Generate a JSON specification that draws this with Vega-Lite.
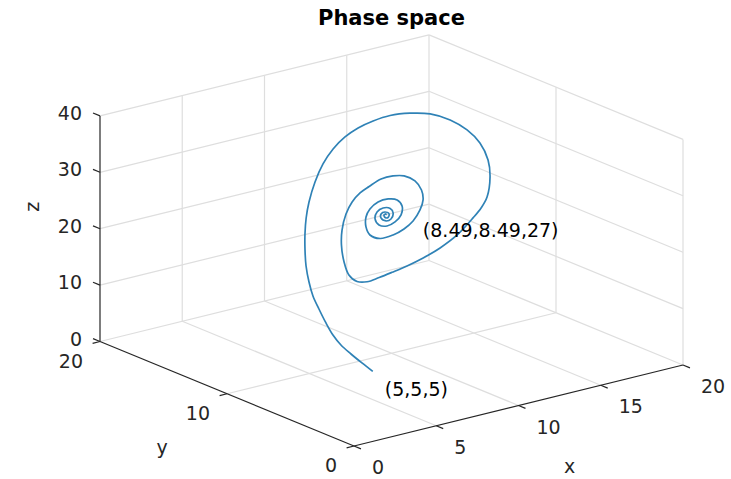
{
  "$schema": "https://vega.github.io/schema/vega-lite/v6.json",
  "description": "Lorenz trajectory from (5,5,5) spiralling into the fixed point (8.49,8.49,27), drawn in an oblique 3-D box view.",
  "width": 731,
  "height": 449,
  "autosize": {"type": "none"},
  "padding": {"left": 0, "right": 0, "top": 30, "bottom": 0},
  "background": "white",
  "config": {"view": {"stroke": null}, "font": "DejaVu Sans"},
  "title": {
    "text": "Phase space",
    "font": "DejaVu Sans",
    "fontSize": 21,
    "fontWeight": "bold",
    "color": "#000000",
    "anchor": "middle",
    "dx": 26,
    "offset": 1
  },
  "datasets": {
    "trajectory": [
      {"i": 1, "x": 5, "y": 5, "z": 5},
      {"i": 2, "x": 5.2, "y": 6.11, "z": 5.33},
      {"i": 3, "x": 5.4, "y": 7.23, "z": 5.74},
      {"i": 4, "x": 5.6, "y": 8.28, "z": 6.22},
      {"i": 5, "x": 5.8, "y": 9.17, "z": 7.02},
      {"i": 6, "x": 6.0, "y": 9.98, "z": 8.26},
      {"i": 7, "x": 6.3, "y": 10.92, "z": 9.65},
      {"i": 8, "x": 6.6, "y": 11.78, "z": 10.95},
      {"i": 9, "x": 7.0, "y": 12.61, "z": 12.37},
      {"i": 10, "x": 7.5, "y": 13.49, "z": 14.03},
      {"i": 11, "x": 8.0, "y": 14.22, "z": 15.83},
      {"i": 12, "x": 8.6, "y": 15.0, "z": 17.52},
      {"i": 13, "x": 9.22, "y": 15.71, "z": 19.25},
      {"i": 14, "x": 10.22, "y": 16.78, "z": 20.38},
      {"i": 15, "x": 11.45, "y": 17.9, "z": 22.01},
      {"i": 16, "x": 12.53, "y": 18.67, "z": 23.72},
      {"i": 17, "x": 13.39, "y": 18.99, "z": 25.46},
      {"i": 18, "x": 14.03, "y": 18.88, "z": 27.23},
      {"i": 19, "x": 14.47, "y": 18.42, "z": 28.94},
      {"i": 20, "x": 14.75, "y": 17.6, "z": 30.74},
      {"i": 21, "x": 14.91, "y": 16.47, "z": 32.64},
      {"i": 22, "x": 14.82, "y": 14.79, "z": 34.66},
      {"i": 23, "x": 14.55, "y": 12.85, "z": 36.53},
      {"i": 24, "x": 13.93, "y": 10.47, "z": 38.11},
      {"i": 25, "x": 13.08, "y": 8.04, "z": 39.2},
      {"i": 26, "x": 12.08, "y": 5.73, "z": 39.75},
      {"i": 27, "x": 10.89, "y": 3.55, "z": 39.62},
      {"i": 28, "x": 9.76, "y": 1.93, "z": 38.91},
      {"i": 29, "x": 8.49, "y": 0.52, "z": 37.57},
      {"i": 30, "x": 7.85, "y": 0.16, "z": 36.42},
      {"i": 31, "x": 7.29, "y": 0.07, "z": 35.14},
      {"i": 32, "x": 6.37, "y": 0.13, "z": 32.72},
      {"i": 33, "x": 5.72, "y": 0.63, "z": 30.42},
      {"i": 34, "x": 5.27, "y": 1.38, "z": 28.27},
      {"i": 35, "x": 4.93, "y": 2.21, "z": 26.33},
      {"i": 36, "x": 4.69, "y": 3.08, "z": 24.57},
      {"i": 37, "x": 4.51, "y": 3.86, "z": 23.06},
      {"i": 38, "x": 4.37, "y": 4.63, "z": 21.69},
      {"i": 39, "x": 4.5, "y": 5.59, "z": 20.76},
      {"i": 40, "x": 5.01, "y": 6.89, "z": 20.34},
      {"i": 41, "x": 5.92, "y": 8.45, "z": 20.55},
      {"i": 42, "x": 7.05, "y": 10.12, "z": 21.21},
      {"i": 43, "x": 8.02, "y": 11.33, "z": 22.04},
      {"i": 44, "x": 9.01, "y": 12.3, "z": 23.27},
      {"i": 45, "x": 9.73, "y": 12.75, "z": 24.47},
      {"i": 46, "x": 10.22, "y": 12.76, "z": 25.71},
      {"i": 47, "x": 10.54, "y": 12.46, "z": 26.9},
      {"i": 48, "x": 10.89, "y": 11.97, "z": 28.44},
      {"i": 49, "x": 10.94, "y": 11.1, "z": 29.74},
      {"i": 50, "x": 10.82, "y": 10.07, "z": 30.79},
      {"i": 51, "x": 10.36, "y": 8.62, "z": 31.57},
      {"i": 52, "x": 9.7, "y": 7.25, "z": 31.71},
      {"i": 53, "x": 9.04, "y": 6.27, "z": 31.33},
      {"i": 54, "x": 8.42, "y": 5.71, "z": 30.52},
      {"i": 55, "x": 7.79, "y": 5.44, "z": 29.27},
      {"i": 56, "x": 7.37, "y": 5.61, "z": 27.99},
      {"i": 57, "x": 7.11, "y": 6.13, "z": 26.63},
      {"i": 58, "x": 7.03, "y": 7.05, "z": 25.21},
      {"i": 59, "x": 7.37, "y": 8.29, "z": 24.44},
      {"i": 60, "x": 7.94, "y": 9.34, "z": 24.49},
      {"i": 61, "x": 8.59, "y": 10.18, "z": 25.01},
      {"i": 62, "x": 9.06, "y": 10.48, "z": 25.81},
      {"i": 63, "x": 9.43, "y": 10.32, "z": 26.94},
      {"i": 64, "x": 9.51, "y": 9.63, "z": 28.05},
      {"i": 65, "x": 9.34, "y": 8.7, "z": 28.86},
      {"i": 66, "x": 8.89, "y": 7.73, "z": 29.02},
      {"i": 67, "x": 8.32, "y": 7.07, "z": 28.45},
      {"i": 68, "x": 7.93, "y": 7.04, "z": 27.51},
      {"i": 69, "x": 7.76, "y": 7.45, "z": 26.53},
      {"i": 70, "x": 7.92, "y": 8.29, "z": 25.83},
      {"i": 71, "x": 8.36, "y": 9.17, "z": 25.76},
      {"i": 72, "x": 8.79, "y": 9.57, "z": 26.32},
      {"i": 73, "x": 8.98, "y": 9.34, "z": 27.1},
      {"i": 74, "x": 8.87, "y": 8.64, "z": 27.74},
      {"i": 75, "x": 8.54, "y": 7.98, "z": 27.79},
      {"i": 76, "x": 8.17, "y": 7.67, "z": 27.28},
      {"i": 77, "x": 8.1, "y": 7.97, "z": 26.7},
      {"i": 78, "x": 8.35, "y": 8.69, "z": 26.39},
      {"i": 79, "x": 8.61, "y": 9.02, "z": 26.6},
      {"i": 80, "x": 8.69, "y": 8.82, "z": 27.08},
      {"i": 81, "x": 8.52, "y": 8.27, "z": 27.36},
      {"i": 82, "x": 8.3, "y": 8.07, "z": 27.08},
      {"i": 83, "x": 8.34, "y": 8.35, "z": 26.79},
      {"i": 84, "x": 8.51, "y": 8.66, "z": 26.83},
      {"i": 85, "x": 8.55, "y": 8.56, "z": 27.07},
      {"i": 86, "x": 8.49, "y": 8.49, "z": 27}
    ],
    "grid": [
      {"x1": 0, "y1": 20, "z1": 10, "x2": 20, "y2": 20, "z2": 10},
      {"x1": 0, "y1": 20, "z1": 20, "x2": 20, "y2": 20, "z2": 20},
      {"x1": 0, "y1": 20, "z1": 30, "x2": 20, "y2": 20, "z2": 30},
      {"x1": 0, "y1": 20, "z1": 40, "x2": 20, "y2": 20, "z2": 40},
      {"x1": 5, "y1": 20, "z1": 0, "x2": 5, "y2": 20, "z2": 40},
      {"x1": 10, "y1": 20, "z1": 0, "x2": 10, "y2": 20, "z2": 40},
      {"x1": 15, "y1": 20, "z1": 0, "x2": 15, "y2": 20, "z2": 40},
      {"x1": 20, "y1": 20, "z1": 0, "x2": 20, "y2": 20, "z2": 40},
      {"x1": 20, "y1": 0, "z1": 10, "x2": 20, "y2": 20, "z2": 10},
      {"x1": 20, "y1": 0, "z1": 20, "x2": 20, "y2": 20, "z2": 20},
      {"x1": 20, "y1": 0, "z1": 30, "x2": 20, "y2": 20, "z2": 30},
      {"x1": 20, "y1": 0, "z1": 40, "x2": 20, "y2": 20, "z2": 40},
      {"x1": 20, "y1": 0, "z1": 0, "x2": 20, "y2": 0, "z2": 40},
      {"x1": 20, "y1": 10, "z1": 0, "x2": 20, "y2": 10, "z2": 40},
      {"x1": 5, "y1": 0, "z1": 0, "x2": 5, "y2": 20, "z2": 0},
      {"x1": 10, "y1": 0, "z1": 0, "x2": 10, "y2": 20, "z2": 0},
      {"x1": 15, "y1": 0, "z1": 0, "x2": 15, "y2": 20, "z2": 0},
      {"x1": 20, "y1": 0, "z1": 0, "x2": 20, "y2": 20, "z2": 0},
      {"x1": 0, "y1": 10, "z1": 0, "x2": 20, "y2": 10, "z2": 0},
      {"x1": 0, "y1": 20, "z1": 0, "x2": 20, "y2": 20, "z2": 0}
    ],
    "axisLines": [
      {"x1": 0, "y1": 0, "z1": 0, "x2": 20, "y2": 0, "z2": 0},
      {"x1": 0, "y1": 0, "z1": 0, "x2": 0, "y2": 20, "z2": 0},
      {"x1": 0, "y1": 20, "z1": 0, "x2": 0, "y2": 20, "z2": 40},
      {"x1": 0, "y1": 0, "z1": 0, "x2": 0, "y2": -0.55, "z2": 0},
      {"x1": 5, "y1": 0, "z1": 0, "x2": 5, "y2": -0.55, "z2": 0},
      {"x1": 10, "y1": 0, "z1": 0, "x2": 10, "y2": -0.55, "z2": 0},
      {"x1": 15, "y1": 0, "z1": 0, "x2": 15, "y2": -0.55, "z2": 0},
      {"x1": 20, "y1": 0, "z1": 0, "x2": 20, "y2": -0.55, "z2": 0},
      {"x1": 0, "y1": 0, "z1": 0, "x2": -0.45, "y2": 0, "z2": 0},
      {"x1": 0, "y1": 10, "z1": 0, "x2": -0.45, "y2": 10, "z2": 0},
      {"x1": 0, "y1": 20, "z1": 0, "x2": -0.45, "y2": 20, "z2": 0},
      {"x1": 0, "y1": 20, "z1": 0, "x2": 0, "y2": 20.55, "z2": 0},
      {"x1": 0, "y1": 20, "z1": 10, "x2": 0, "y2": 20.55, "z2": 10},
      {"x1": 0, "y1": 20, "z1": 20, "x2": 0, "y2": 20.55, "z2": 20},
      {"x1": 0, "y1": 20, "z1": 30, "x2": 0, "y2": 20.55, "z2": 30},
      {"x1": 0, "y1": 20, "z1": 40, "x2": 0, "y2": 20.55, "z2": 40}
    ],
    "xTicks": [
      {"x": 0, "y": 0, "z": 0, "label": "0"},
      {"x": 5, "y": 0, "z": 0, "label": "5"},
      {"x": 10, "y": 0, "z": 0, "label": "10"},
      {"x": 15, "y": 0, "z": 0, "label": "15"},
      {"x": 20, "y": 0, "z": 0, "label": "20"}
    ],
    "yTicks": [
      {"x": 0, "y": 0, "z": 0, "label": "0"},
      {"x": 0, "y": 10, "z": 0, "label": "10"},
      {"x": 0, "y": 20, "z": 0, "label": "20"}
    ],
    "zTicks": [
      {"x": 0, "y": 20, "z": 0, "label": "0"},
      {"x": 0, "y": 20, "z": 10, "label": "10"},
      {"x": 0, "y": 20, "z": 20, "label": "20"},
      {"x": 0, "y": 20, "z": 30, "label": "30"},
      {"x": 0, "y": 20, "z": 40, "label": "40"}
    ]
  },
  "layer": [
    {
      "data": {"name": "grid"},
      "transform": [
        {"calculate": "16.45 * datum.x1 - 12.7 * datum.y1", "as": "u1"},
        {"calculate": "4.05 * datum.x1 + 5.225 * datum.y1 + 5.64 * datum.z1", "as": "v1"},
        {"calculate": "16.45 * datum.x2 - 12.7 * datum.y2", "as": "u2"},
        {"calculate": "4.05 * datum.x2 + 5.225 * datum.y2 + 5.64 * datum.z2", "as": "v2"}
      ],
      "mark": {"type": "rule", "color": "#dedede", "strokeWidth": 1.2},
      "encoding": {
        "x": {"field": "u1", "type": "quantitative", "scale": {"domain": [-354, 377], "nice": false, "zero": false}, "axis": null},
        "y": {"field": "v1", "type": "quantitative", "scale": {"domain": [-33, 416], "nice": false, "zero": false}, "axis": null},
        "x2": {"field": "u2"},
        "y2": {"field": "v2"}
      }
    },
    {
      "data": {"name": "axisLines"},
      "transform": [
        {"calculate": "16.45 * datum.x1 - 12.7 * datum.y1", "as": "u1"},
        {"calculate": "4.05 * datum.x1 + 5.225 * datum.y1 + 5.64 * datum.z1", "as": "v1"},
        {"calculate": "16.45 * datum.x2 - 12.7 * datum.y2", "as": "u2"},
        {"calculate": "4.05 * datum.x2 + 5.225 * datum.y2 + 5.64 * datum.z2", "as": "v2"}
      ],
      "mark": {"type": "rule", "color": "#262626", "strokeWidth": 1.2},
      "encoding": {
        "x": {"field": "u1", "type": "quantitative", "scale": {"domain": [-354, 377], "nice": false, "zero": false}, "axis": null},
        "y": {"field": "v1", "type": "quantitative", "scale": {"domain": [-33, 416], "nice": false, "zero": false}, "axis": null},
        "x2": {"field": "u2"},
        "y2": {"field": "v2"}
      }
    },
    {
      "data": {"name": "trajectory"},
      "transform": [
        {"calculate": "16.45 * datum.x - 12.7 * datum.y", "as": "u"},
        {"calculate": "4.05 * datum.x + 5.225 * datum.y + 5.64 * datum.z", "as": "v"}
      ],
      "mark": {"type": "line", "color": "#2f82b6", "strokeWidth": 1.7, "interpolate": "catmull-rom"},
      "encoding": {
        "x": {"field": "u", "type": "quantitative", "scale": {"domain": [-354, 377], "nice": false, "zero": false}, "axis": null},
        "y": {"field": "v", "type": "quantitative", "scale": {"domain": [-33, 416], "nice": false, "zero": false}, "axis": null},
        "order": {"field": "i", "type": "quantitative"}
      }
    },
    {
      "data": {"name": "xTicks"},
      "transform": [
        {"calculate": "16.45 * datum.x - 12.7 * datum.y", "as": "u"},
        {"calculate": "4.05 * datum.x + 5.225 * datum.y + 5.64 * datum.z", "as": "v"}
      ],
      "mark": {"type": "text", "align": "left", "baseline": "middle", "dx": 18, "dy": 22, "fontSize": 19, "font": "DejaVu Sans", "color": "#262626"},
      "encoding": {
        "x": {"field": "u", "type": "quantitative", "scale": {"domain": [-354, 377], "nice": false, "zero": false}, "axis": null},
        "y": {"field": "v", "type": "quantitative", "scale": {"domain": [-33, 416], "nice": false, "zero": false}, "axis": null},
        "text": {"field": "label"}
      }
    },
    {
      "data": {"name": "yTicks"},
      "transform": [
        {"calculate": "16.45 * datum.x - 12.7 * datum.y", "as": "u"},
        {"calculate": "4.05 * datum.x + 5.225 * datum.y + 5.64 * datum.z", "as": "v"}
      ],
      "mark": {"type": "text", "align": "right", "baseline": "middle", "dx": -17, "dy": 20, "fontSize": 19, "font": "DejaVu Sans", "color": "#262626"},
      "encoding": {
        "x": {"field": "u", "type": "quantitative", "scale": {"domain": [-354, 377], "nice": false, "zero": false}, "axis": null},
        "y": {"field": "v", "type": "quantitative", "scale": {"domain": [-33, 416], "nice": false, "zero": false}, "axis": null},
        "text": {"field": "label"}
      }
    },
    {
      "data": {"name": "zTicks"},
      "transform": [
        {"calculate": "16.45 * datum.x - 12.7 * datum.y", "as": "u"},
        {"calculate": "4.05 * datum.x + 5.225 * datum.y + 5.64 * datum.z", "as": "v"}
      ],
      "mark": {"type": "text", "align": "right", "baseline": "middle", "dx": -18, "dy": -2, "fontSize": 19, "font": "DejaVu Sans", "color": "#262626"},
      "encoding": {
        "x": {"field": "u", "type": "quantitative", "scale": {"domain": [-354, 377], "nice": false, "zero": false}, "axis": null},
        "y": {"field": "v", "type": "quantitative", "scale": {"domain": [-33, 416], "nice": false, "zero": false}, "axis": null},
        "text": {"field": "label"}
      }
    },
    {
      "data": {"values": [{"x": 10, "y": 0, "z": 0, "label": "x"}]},
      "transform": [
        {"calculate": "16.45 * datum.x - 12.7 * datum.y", "as": "u"},
        {"calculate": "4.05 * datum.x + 5.225 * datum.y + 5.64 * datum.z", "as": "v"}
      ],
      "mark": {"type": "text", "align": "center", "baseline": "middle", "dx": 51, "dy": 61, "fontSize": 19, "font": "DejaVu Sans", "color": "#262626"},
      "encoding": {
        "x": {"field": "u", "type": "quantitative", "scale": {"domain": [-354, 377], "nice": false, "zero": false}, "axis": null},
        "y": {"field": "v", "type": "quantitative", "scale": {"domain": [-33, 416], "nice": false, "zero": false}, "axis": null},
        "text": {"field": "label"}
      }
    },
    {
      "data": {"values": [{"x": 0, "y": 10, "z": 0, "label": "y"}]},
      "transform": [
        {"calculate": "16.45 * datum.x - 12.7 * datum.y", "as": "u"},
        {"calculate": "4.05 * datum.x + 5.225 * datum.y + 5.64 * datum.z", "as": "v"}
      ],
      "mark": {"type": "text", "align": "center", "baseline": "middle", "dx": -65, "dy": 54, "fontSize": 19, "font": "DejaVu Sans", "color": "#262626"},
      "encoding": {
        "x": {"field": "u", "type": "quantitative", "scale": {"domain": [-354, 377], "nice": false, "zero": false}, "axis": null},
        "y": {"field": "v", "type": "quantitative", "scale": {"domain": [-33, 416], "nice": false, "zero": false}, "axis": null},
        "text": {"field": "label"}
      }
    },
    {
      "data": {"values": [{"x": 0, "y": 20, "z": 20, "label": "z"}]},
      "transform": [
        {"calculate": "16.45 * datum.x - 12.7 * datum.y", "as": "u"},
        {"calculate": "4.05 * datum.x + 5.225 * datum.y + 5.64 * datum.z", "as": "v"}
      ],
      "mark": {"type": "text", "align": "center", "baseline": "middle", "angle": 270, "dx": 22, "dy": -67, "fontSize": 19, "font": "DejaVu Sans", "color": "#262626"},
      "encoding": {
        "x": {"field": "u", "type": "quantitative", "scale": {"domain": [-354, 377], "nice": false, "zero": false}, "axis": null},
        "y": {"field": "v", "type": "quantitative", "scale": {"domain": [-33, 416], "nice": false, "zero": false}, "axis": null},
        "text": {"field": "label"}
      }
    },
    {
      "data": {"values": [{"x": 5, "y": 5, "z": 5, "label": "(5,5,5)"}]},
      "transform": [
        {"calculate": "16.45 * datum.x - 12.7 * datum.y", "as": "u"},
        {"calculate": "4.05 * datum.x + 5.225 * datum.y + 5.64 * datum.z", "as": "v"}
      ],
      "mark": {"type": "text", "align": "left", "baseline": "middle", "dx": 12, "dy": 19, "fontSize": 19, "font": "DejaVu Sans", "color": "#000000"},
      "encoding": {
        "x": {"field": "u", "type": "quantitative", "scale": {"domain": [-354, 377], "nice": false, "zero": false}, "axis": null},
        "y": {"field": "v", "type": "quantitative", "scale": {"domain": [-33, 416], "nice": false, "zero": false}, "axis": null},
        "text": {"field": "label"}
      }
    },
    {
      "data": {"values": [{"x": 8.49, "y": 8.49, "z": 27, "label": "(8.49,8.49,27)"}]},
      "transform": [
        {"calculate": "16.45 * datum.x - 12.7 * datum.y", "as": "u"},
        {"calculate": "4.05 * datum.x + 5.225 * datum.y + 5.64 * datum.z", "as": "v"}
      ],
      "mark": {"type": "text", "align": "left", "baseline": "middle", "dx": 37, "dy": 16, "fontSize": 19, "font": "DejaVu Sans", "color": "#000000"},
      "encoding": {
        "x": {"field": "u", "type": "quantitative", "scale": {"domain": [-354, 377], "nice": false, "zero": false}, "axis": null},
        "y": {"field": "v", "type": "quantitative", "scale": {"domain": [-33, 416], "nice": false, "zero": false}, "axis": null},
        "text": {"field": "label"}
      }
    }
  ]
}
